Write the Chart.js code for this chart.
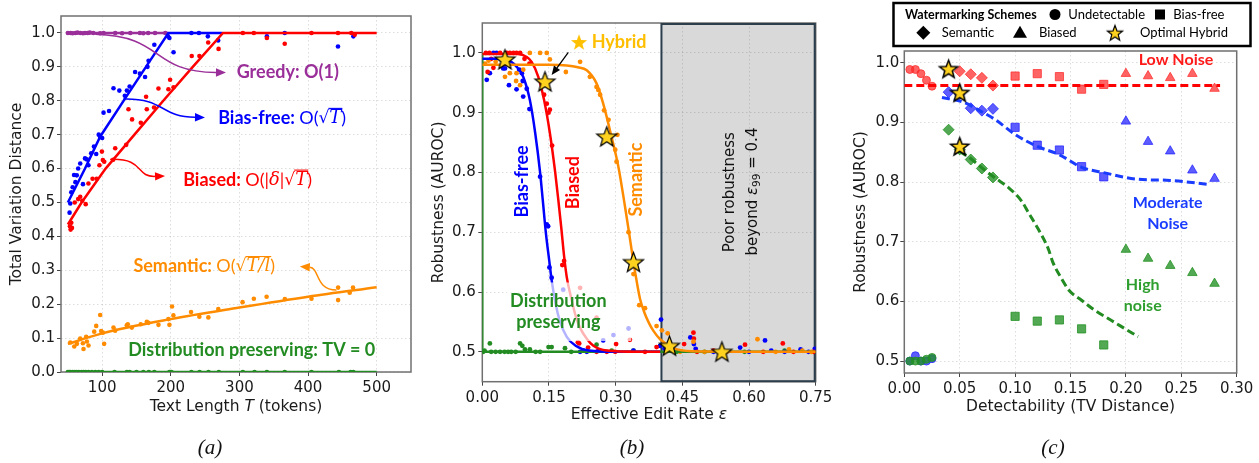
<!DOCTYPE html>
<html>
<head>
<meta charset="utf-8">
<script src="https://cdn.jsdelivr.net/npm/chart.js@4.4.1/dist/chart.umd.min.js"></script>
<style>
html,body{margin:0;padding:0;background:#fff;}
body{width:1259px;height:463px;position:relative;overflow:hidden;}
canvas{position:absolute;top:0;}
.cap{position:absolute;top:435px;line-height:24px;font:italic 21px 'Liberation Serif',serif;color:#111;transform:translateX(-50%);}
</style>
</head>
<body>
<canvas id="ca" width="420" height="463" style="left:0"></canvas>
<canvas id="cb" width="420" height="463" style="left:420px"></canvas>
<canvas id="cc" width="419" height="463" style="left:840px"></canvas>
<div class="cap" style="left:210px">(a)</div>
<div class="cap" style="left:632px">(b)</div>
<div class="cap" style="left:1053px">(c)</div>
<script>
// ================= DATA =================
// ---- Panel (a): TV distance vs text length ----
const aXTicks = [100, 200, 300, 400, 500];
const aYTicks = [0.0, 0.1, 0.2, 0.3, 0.4, 0.5, 0.6, 0.7, 0.8, 0.9, 1.0];
const aGreedyDots = [[50,1.0],[54,1.0],[57,0.999],[61,1.0],[64,1.001],[68,1.0],[72,0.999],[75,1.0],[79,1.0],[82,1.001],[87,1.0],[97,0.999],[102,1.0],[119,1.0],[129,0.999],[141,1.0],[155,1.0],[160,0.999],[167,1.0],[177,1.0],[192,1.0]];
const aGreedyLine = [[50,1.0],[196,1.0]];
const aBiasFreeDots = [[52.5,0.47],[53.5,0.497],[55,0.53],[57,0.545],[59,0.581],[61,0.56],[63,0.58],[65,0.6],[68,0.615],[72,0.554],[75,0.63],[77.7,0.627],[80,0.61],[84,0.645],[88,0.665],[91.3,0.643],[95,0.7],[97,0.694],[100,0.69],[102,0.765],[110,0.77],[116.5,0.837],[125,0.83],[133,0.815],[136,0.83],[140,0.842],[148,0.885],[155,0.88],[162.5,0.87],[166,0.9],[167.6,0.918],[176,0.965],[196,0.99],[198,0.985],[204,0.943],[230,1.0],[241,1.0],[254,0.99],[269,0.978],[340,0.99],[366,1.0],[443.6,0.96],[466,0.99]];
const aBiasFreeLine = [[50,0.5],[75,0.6],[97,0.694],[133.5,0.807],[167.4,0.911],[196.5,1.0],[275,1.0]];
const aBiasedDots = [[53,0.43],[54,0.42],[55,0.44],[56,0.425],[60,0.5],[65,0.51],[68,0.517],[71,0.505],[76,0.495],[80,0.556],[86,0.57],[92,0.57],[96,0.61],[99.6,0.65],[101,0.625],[103,0.62],[116,0.626],[119,0.66],[135,0.67],[138.3,0.775],[143.6,0.745],[156.3,0.735],[164,0.812],[165,0.775],[175.6,0.78],[182,0.836],[196.5,0.834],[199,0.862],[204,0.84],[230.5,0.932],[241.7,0.932],[254.5,0.972],[269.6,0.953],[305,1.0],[321,1.0],[340,0.985],[366,0.968],[405,1.0],[443.6,1.0],[463,1.0],[468,0.995]];
const aBiasedLine = [[50,0.435],[70,0.5],[105,0.6],[147,0.7],[189,0.8],[232,0.9],[276,1.0],[500,1.0]];
const aSemanticDots = [[53.5,0.087],[59.3,0.075],[63.2,0.083],[68,0.099],[71.9,0.085],[72.8,0.068],[76.7,0.104],[77.7,0.09],[80.1,0.078],[88.4,0.119],[91.3,0.136],[97.1,0.168],[98.5,0.121],[101,0.116],[102.9,0.083],[116.5,0.131],[118.9,0.122],[135.9,0.138],[137.3,0.141],[143.2,0.131],[156.2,0.141],[165,0.148],[167.4,0.145],[182,0.139],[196.5,0.156],[198,0.139],[201.8,0.193],[203.8,0.167],[229.5,0.177],[241.6,0.163],[254.7,0.161],[269.2,0.186],[304.6,0.206],[321,0.216],[339.6,0.222],[366.2,0.215],[405,0.216],[443.8,0.249],[443.8,0.212],[460.7,0.234],[465.5,0.249]];
const aSemanticLine = [[50,0.083],[100,0.114],[200,0.156],[300,0.19],[400,0.222],[500,0.25]];
const aDistDots = [[50,0],[52,0],[54,0],[57,0],[60,0],[63,0],[66,0],[70,0],[73,0],[76,0],[80,0],[85,0],[90,0],[95,0],[100,0],[118,0],[136,0],[140,0],[150,0],[160,0],[168,0],[176,0],[198,0],[201,0],[230,0],[242,0],[255,0],[270,0],[305,0],[322,0],[340,0],[366,0],[405,0],[445,0],[462,0],[466,0]];
const aDistLine = [[50,0],[500,0]];

// ---- Panel (b): robustness vs effective edit rate ----
const bXTicks = [0.00, 0.15, 0.30, 0.45, 0.60, 0.75];
const bYTicks = [0.5, 0.6, 0.7, 0.8, 0.9, 1.0];
const bBiasFreeDots = [[0.01,0.955],[0.017,0.966],[0.025,1.0],[0.032,1.0],[0.047,0.974],[0.051,0.974],[0.06,0.946],[0.077,0.939],[0.083,0.972],[0.089,0.966],[0.091,0.953],[0.092,0.927],[0.1,0.94],[0.106,0.906],[0.13,0.793],[0.145,0.713],[0.148,0.71],[0.151,0.641],[0.156,0.624],[0.182,0.604],[0.272,0.519],[0.295,0.528],[0.329,0.539],[0.22,0.5],[0.227,0.502],[0.235,0.5],[0.261,0.502],[0.34,0.502],[0.402,0.554],[0.4,0.51],[0.41,0.505],[0.468,0.524],[0.476,0.513],[0.48,0.505],[0.52,0.5],[0.58,0.507],[0.6,0.5],[0.636,0.519],[0.65,0.502],[0.68,0.5],[0.716,0.504],[0.734,0.5],[0.748,0.505]];
const bBiasFreeCurve = [[0,0.99],[0.04,0.99],[0.065,0.985],[0.077,0.977],[0.092,0.96],[0.107,0.921],[0.119,0.866],[0.13,0.8],[0.136,0.754],[0.143,0.699],[0.151,0.65],[0.156,0.62],[0.165,0.58],[0.175,0.55],[0.19,0.525],[0.21,0.51],[0.24,0.502],[0.3,0.5],[0.4,0.5]];
const bBiasedDots = [[0.008,1.0],[0.012,0.968],[0.016,1.0],[0.02,0.99],[0.025,0.975],[0.04,1.0],[0.055,1.0],[0.062,1.0],[0.07,1.0],[0.077,1.0],[0.085,1.0],[0.095,0.99],[0.106,0.982],[0.139,0.93],[0.145,0.915],[0.149,0.9],[0.152,0.905],[0.157,0.845],[0.18,0.645],[0.184,0.652],[0.22,0.607],[0.257,0.557],[0.215,0.516],[0.218,0.514],[0.238,0.507],[0.257,0.5],[0.28,0.5],[0.299,0.5],[0.301,0.513],[0.332,0.52],[0.366,0.5],[0.392,0.508],[0.454,0.513],[0.475,0.532],[0.476,0.522],[0.483,0.5],[0.52,0.502],[0.591,0.512],[0.632,0.5],[0.676,0.514],[0.7,0.5],[0.745,0.5]];
const bBiasedCurve = [[0,0.998],[0.08,0.998],[0.1,0.993],[0.111,0.985],[0.126,0.96],[0.139,0.921],[0.152,0.866],[0.164,0.8],[0.171,0.754],[0.178,0.705],[0.184,0.66],[0.19,0.625],[0.2,0.59],[0.21,0.56],[0.22,0.54],[0.235,0.522],[0.25,0.51],[0.28,0.502],[0.35,0.5],[0.4,0.5]];
const bSemanticDots = [[0.006,0.982],[0.014,0.987],[0.03,0.985],[0.051,0.96],[0.062,0.966],[0.076,0.953],[0.077,0.966],[0.085,0.946],[0.092,0.972],[0.107,1.0],[0.13,1.0],[0.145,1.0],[0.152,0.989],[0.188,0.968],[0.22,0.985],[0.242,0.96],[0.257,0.943],[0.261,0.938],[0.265,0.93],[0.274,0.904],[0.284,0.888],[0.299,0.838],[0.302,0.818],[0.304,0.863],[0.329,0.70],[0.34,0.63],[0.353,0.578],[0.366,0.573],[0.392,0.543],[0.404,0.536],[0.417,0.531],[0.445,0.5],[0.475,0.517],[0.5,0.5],[0.55,0.5],[0.619,0.521],[0.66,0.5],[0.69,0.504],[0.72,0.502],[0.74,0.5]];
const bSemanticCurve = [[0,0.98],[0.15,0.98],[0.19,0.979],[0.215,0.976],[0.235,0.971],[0.257,0.949],[0.272,0.915],[0.287,0.871],[0.306,0.81],[0.321,0.743],[0.33,0.70],[0.34,0.65],[0.348,0.615],[0.355,0.588],[0.365,0.565],[0.375,0.548],[0.385,0.535],[0.4,0.521],[0.43,0.506],[0.47,0.501],[0.75,0.5]];
const bDistDots = [[0.002,0.5],[0.005,0.502],[0.017,0.514],[0.02,0.5],[0.03,0.5],[0.04,0.5],[0.05,0.5],[0.058,0.5],[0.065,0.5],[0.075,0.5],[0.085,0.514],[0.09,0.51],[0.096,0.504],[0.107,0.504],[0.12,0.5],[0.13,0.5],[0.149,0.508],[0.156,0.508],[0.186,0.506],[0.2,0.5],[0.257,0.512],[0.291,0.502],[0.34,0.502],[0.4,0.51],[0.437,0.5],[0.5,0.5],[0.59,0.5],[0.68,0.502]];
const bDistCurve = [[0,1.0],[0,0.5],[0.75,0.5]];
const bHybridStars = [[0.051,0.989],[0.141,0.952],[0.28,0.86],[0.34,0.65],[0.421,0.51],[0.539,0.5]];

// ---- Panel (c): robustness vs detectability ----
const cXTicks = [0.00, 0.05, 0.10, 0.15, 0.20, 0.25, 0.30];
const cYTicks = [0.5, 0.6, 0.7, 0.8, 0.9, 1.0];
const cLowUndetectable = [[0.005,0.989],[0.01,0.989],[0.015,0.982],[0.02,0.971],[0.025,0.961]];
const cLowSemantic = [[0.04,0.99],[0.05,0.986],[0.06,0.981],[0.07,0.975],[0.08,0.962]];
const cLowBiasFree = [[0.10,0.978],[0.12,0.982],[0.14,0.977],[0.16,0.956],[0.18,0.964]];
const cLowBiased = [[0.20,0.982],[0.22,0.978],[0.24,0.975],[0.26,0.982],[0.28,0.957]];
const cLowHybridCurve = [[0.0,0.962],[0.285,0.962]];
const cModUndetectable = [[0.005,0.5],[0.01,0.509],[0.015,0.5],[0.02,0.5],[0.025,0.504]];
const cModSemantic = [[0.04,0.951],[0.05,0.948],[0.06,0.924],[0.07,0.92],[0.08,0.923]];
const cModBiasFree = [[0.10,0.892],[0.12,0.862],[0.14,0.854],[0.16,0.826],[0.18,0.809]];
const cModBiased = [[0.20,0.902],[0.22,0.868],[0.24,0.852],[0.26,0.82],[0.28,0.806]];
const cModHybridCurve = [[0.034,0.942],[0.052,0.935],[0.07,0.918],[0.082,0.905],[0.1,0.88],[0.12,0.86],[0.14,0.846],[0.16,0.825],[0.18,0.816],[0.21,0.805],[0.24,0.803],[0.275,0.796]];
const cHighUndetectable = [[0.005,0.5],[0.01,0.5],[0.015,0.5],[0.02,0.503],[0.025,0.506]];
const cHighSemantic = [[0.04,0.888],[0.05,0.855],[0.06,0.838],[0.07,0.823],[0.08,0.808]];
const cHighBiasFree = [[0.10,0.575],[0.12,0.567],[0.14,0.569],[0.16,0.554],[0.18,0.527]];
const cHighBiased = [[0.20,0.687],[0.22,0.672],[0.24,0.66],[0.26,0.648],[0.28,0.63]];
const cHighHybridCurve = [[0.05,0.852],[0.061,0.838],[0.07,0.824],[0.082,0.807],[0.094,0.791],[0.106,0.768],[0.112,0.749],[0.121,0.721],[0.13,0.688],[0.134,0.666],[0.142,0.638],[0.149,0.618],[0.16,0.602],[0.172,0.585],[0.187,0.568],[0.199,0.5545],[0.211,0.541]];
const cOptimalHybrid = [[0.04,0.99],[0.05,0.95],[0.05,0.86]];

// ================= STYLE / HELPERS =================
const BLUE='#0000ff', RED='#ff0000', ORANGE='#ff8c00', PURPLE='#9a2f9a', GREEN='#228b22', GOLD='#FFD21F';
Chart.defaults.font.family = "'DejaVu Sans', sans-serif";
Chart.defaults.color = '#1a1a1a';
Chart.defaults.animation = false;

const P = arr => arr.map(([x, y]) => ({x, y}));

function makeStar(R, fill, stroke, lw) {
  const r = R * 0.42, pad = (lw || 0) + 1.5;
  const s = Math.ceil(2 * (R + pad));
  const c = document.createElement('canvas'); c.width = s; c.height = s;
  const g = c.getContext('2d');
  g.beginPath();
  for (let i = 0; i < 10; i++) {
    const rad = i % 2 ? r : R, a = -Math.PI / 2 + i * Math.PI / 5;
    const px = s / 2 + rad * Math.cos(a), py = s / 2 + 0.8 + rad * Math.sin(a);
    i ? g.lineTo(px, py) : g.moveTo(px, py);
  }
  g.closePath(); g.fillStyle = fill; g.fill();
  if (lw) { g.lineWidth = lw; g.strokeStyle = stroke; g.lineJoin = 'miter'; g.stroke(); }
  return c;
}
const starB = makeStar(10.5, GOLD, '#000', 1.2);
const starC = makeStar(9.5, GOLD, '#000', 1.5);
const starHyb = makeStar(8.5, '#FFC000', null, 0);
const starLeg = makeStar(8, GOLD, '#000', 1.2);

function dots(data, color, r, order, extra) {
  return Object.assign({data: P(data), showLine: false, pointRadius: r, pointHoverRadius: r,
    backgroundColor: color, borderColor: color, borderWidth: 0, order}, extra || {});
}
function line(data, color, w, order, extra) {
  return Object.assign({data: P(data), showLine: true, pointRadius: 0, pointHoverRadius: 0,
    borderColor: color, backgroundColor: color, borderWidth: w, fill: false, order}, extra || {});
}

function scales(o) {
  const grid = {color: 'rgba(0,0,0,0.17)', lineWidth: 0.8, tickLength: 4, tickColor: '#444', tickWidth: 1};
  const border = {display: false, dash: [1.5, 2.5]};
  const tk = {font: {size: 15}, color: '#1a1a1a', autoSkip: false, maxRotation: 0};
  return {
    x: {type: 'linear', min: o.xmin, max: o.xmax, grid, border,
        ticks: Object.assign({}, tk, {padding: 3, callback: o.xfmt}),
        afterBuildTicks: s => { s.ticks = o.xticks.map(v => ({value: v})); },
        afterFit: s => { s.height = o.xh; },
        title: o.xtitle ? {display: true, text: o.xtitle, font: {size: 15.5}, color: '#1a1a1a', padding: {top: 0, bottom: o.xtpad}} : {display: false}},
    y: {type: 'linear', min: o.ymin, max: o.ymax, grid, border,
        ticks: Object.assign({}, tk, {padding: o.ypad, callback: v => Number(v).toFixed(1)}),
        afterBuildTicks: s => { s.ticks = o.yticks.map(v => ({value: v})); },
        afterFit: s => { s.width = o.yw; },
        title: {display: true, text: o.ytitle, font: {size: 15.5}, color: '#1a1a1a', padding: {top: o.ytpad, bottom: 0}}}
  };
}

function frame(c, color) {
  const a = c.chartArea, ctx = c.ctx;
  ctx.save(); ctx.strokeStyle = color || '#707070'; ctx.lineWidth = 1.5;
  ctx.strokeRect(a.left, a.top, a.right - a.left, a.bottom - a.top); ctx.restore();
}
function XY(c, x, y) { return [c.scales.x.getPixelForValue(x), c.scales.y.getPixelForValue(y)]; }

// parts: [text, font, color, overlineOffset, dy]
function rich(ctx, parts, x, y, align, rot) {
  ctx.save(); ctx.translate(x, y); if (rot) ctx.rotate(rot);
  ctx.textBaseline = 'middle'; ctx.textAlign = 'left';
  let w = 0;
  for (const p of parts) { ctx.font = p[1]; w += ctx.measureText(p[0]).width; }
  let cx = align === 'center' ? -w / 2 : align === 'right' ? -w : 0;
  for (const p of parts) {
    ctx.font = p[1]; ctx.fillStyle = p[2];
    const pw = ctx.measureText(p[0]).width;
    ctx.fillText(p[0], cx, p[4] || 0);
    if (p[3]) {
      ctx.strokeStyle = p[2]; ctx.lineWidth = 1.1; ctx.beginPath();
      ctx.moveTo(cx - 1, -p[3]); ctx.lineTo(cx + pw + 1, -p[3]); ctx.stroke();
    }
    cx += pw;
  }
  ctx.restore();
}

function arrowPath(ctx, pts, color, lw, head) {
  ctx.save(); ctx.strokeStyle = color; ctx.fillStyle = color; ctx.lineWidth = lw;
  const n = pts.length, tip = pts[n - 1], prev = pts[n - 2];
  const ang = Math.atan2(tip[1] - prev[1], tip[0] - prev[0]);
  const base = [tip[0] - head * Math.cos(ang), tip[1] - head * Math.sin(ang)];
  ctx.beginPath(); ctx.moveTo(pts[0][0], pts[0][1]);
  if (n === 4) ctx.bezierCurveTo(pts[1][0], pts[1][1], pts[2][0], pts[2][1], base[0], base[1]);
  else ctx.lineTo(base[0], base[1]);
  ctx.stroke();
  const hw = head * 0.42;
  ctx.beginPath(); ctx.moveTo(tip[0], tip[1]);
  ctx.lineTo(base[0] + hw * Math.sin(ang), base[1] - hw * Math.cos(ang));
  ctx.lineTo(base[0] - hw * Math.sin(ang), base[1] + hw * Math.cos(ang));
  ctx.closePath(); ctx.fill(); ctx.restore();
}

const BOLD = 'bold 18px Lato', MATH = '18px Lato', MI = 'italic 18px "DejaVu Serif"', SQ = '17px "DejaVu Sans"';

// ================= PANEL (a) =================
new Chart(document.getElementById('ca'), {
  type: 'scatter',
  data: {datasets: [
    line(aBiasedLine, RED, 2.5, 1),
    line(aBiasFreeLine, BLUE, 2.5, 2),
    line(aGreedyLine, PURPLE, 2.5, 3),
    line(aSemanticLine, ORANGE, 2.5, 2, {cubicInterpolationMode: 'monotone'}),
    line(aDistLine, GREEN, 2.5, 2),
    dots(aBiasedDots, RED, 2.3, 5),
    dots(aBiasFreeDots, BLUE, 2.3, 6),
    dots(aGreedyDots, PURPLE, 2.3, 4),
    dots(aSemanticDots, ORANGE, 2.3, 5),
    dots(aDistDots, GREEN, 2.3, 5)
  ]},
  options: {
    responsive: false, events: [],
    layout: {padding: {left: 0, top: 16, right: 9, bottom: 0}},
    plugins: {legend: {display: false}, tooltip: {enabled: false}},
    scales: scales({xmin: 40, xmax: 550, xticks: aXTicks, xfmt: v => String(v), xh: 91,
      ymin: 0, ymax: 1.05, yticks: aYTicks, yw: 61, ypad: 2, ytitle: 'Total Variation Distance', ytpad: 8})
  },
  plugins: [{id: 'decoA',
    beforeDatasetsDraw(c) { frame(c); },
    afterDatasetsDraw(c) {
      const ctx = c.ctx;
      const A = (pts) => pts.map(p => XY(c, p[0], p[1]));
      arrowPath(ctx, A([[89.8,0.996],[191.6,0.991],[169.8,0.885],[280.4,0.883]]), PURPLE, 1.5, 10);
      arrowPath(ctx, A([[131,0.805],[191.6,0.808],[184.4,0.752],[249.8,0.751]]), BLUE, 1.5, 10);
      arrowPath(ctx, A([[111.6,0.627],[162.5,0.631],[148,0.575],[191.6,0.578]]), RED, 1.5, 10);
      arrowPath(ctx, A([[441.4,0.242],[410,0.242],[417,0.307],[388,0.311]]), ORANGE, 1.5, 10);
      let p;
      p = XY(c, 296, 0.883); rich(ctx, [['Greedy: O(1)', BOLD, PURPLE]], p[0], p[1], 'left');
      p = XY(c, 269, 0.748); rich(ctx, [['Bias-free: ', BOLD, BLUE], ['O(', MATH, BLUE], ['\u221A', SQ, BLUE], ['T', MI, BLUE, 10], [')', MATH, BLUE]], p[0], p[1], 'left');
      p = XY(c, 218, 0.566); rich(ctx, [['Biased: ', BOLD, RED], ['O(', MATH, RED], ['|', MATH, RED], ['\u03B4', MI, RED], ['|', MATH, RED], ['\u221A', SQ, RED], ['T', MI, RED, 10], [')', MATH, RED]], p[0], p[1], 'left');
      p = XY(c, 145.5, 0.311); rich(ctx, [['Semantic: ', BOLD, ORANGE], ['O(', MATH, ORANGE], ['\u221A', SQ, ORANGE], ['T/l', MI, ORANGE, 10], [')', MATH, ORANGE]], p[0], p[1], 'left');
      p = XY(c, 138, 0.065); rich(ctx, [['Distribution preserving: TV = 0', BOLD, GREEN]], p[0], p[1], 'left');
    },
    afterDraw(c) {
      const a = c.chartArea;
      rich(c.ctx, [['Text Length ', '15.5px "DejaVu Sans"', '#1a1a1a'], ['T', 'italic 15.5px "DejaVu Sans"', '#1a1a1a'], [' (tokens)', '15.5px "DejaVu Sans"', '#1a1a1a']], (a.left + a.right) / 2, 406.7, 'center');
    }
  }]
});

// ================= PANEL (b) =================
new Chart(document.getElementById('cb'), {
  type: 'scatter',
  data: {datasets: [
    dots(bHybridStars, GOLD, 10, 0, {pointStyle: starB}),
    line(bSemanticCurve, ORANGE, 2.5, 1, {cubicInterpolationMode: 'monotone'}),
    line(bBiasedCurve, RED, 2.5, 2, {cubicInterpolationMode: 'monotone'}),
    line(bBiasFreeCurve, BLUE, 2.5, 3, {cubicInterpolationMode: 'monotone'}),
    line(bDistCurve, GREEN, 2.5, 4),
    dots(bSemanticDots, ORANGE, 2.4, 5),
    dots(bBiasedDots, RED, 2.4, 6),
    dots(bBiasFreeDots, BLUE, 2.4, 7),
    dots(bDistDots, GREEN, 2.4, 8)
  ]},
  options: {
    responsive: false, events: [],
    layout: {padding: {left: 0, top: 23, right: 24.3, bottom: 0}},
    plugins: {legend: {display: false}, tooltip: {enabled: false}},
    scales: scales({xmin: 0, xmax: 0.75, xticks: bXTicks, xfmt: v => Number(v).toFixed(2), xh: 81.3,
      ymin: 0.45, ymax: 1.05, yticks: bYTicks, yw: 62.3, ypad: 2.5, ytitle: 'Robustness (AUROC)', ytpad: 10})
  },
  plugins: [{id: 'decoB',
    beforeDatasetsDraw(c) {
      const a = c.chartArea, ctx = c.ctx;
      frame(c);
      const x0 = c.scales.x.getPixelForValue(0.403);
      ctx.save();
      ctx.fillStyle = 'rgba(0,0,0,0.15)'; ctx.fillRect(x0, a.top, a.right - x0, a.bottom - a.top);
      ctx.strokeStyle = '#2c3e4c'; ctx.lineWidth = 2; ctx.strokeRect(x0, a.top + 1, a.right - x0 - 1, a.bottom - a.top - 1.5);
      ctx.restore();
    },
    afterDatasetsDraw(c) {
      const ctx = c.ctx;
      // semi-transparent box behind "Distribution preserving"
      const p0 = XY(c, 0.055, 0.616), p1 = XY(c, 0.335, 0.518);
      ctx.save(); ctx.fillStyle = 'rgba(255,255,255,0.7)'; ctx.fillRect(p0[0], p0[1], p1[0] - p0[0], p1[1] - p0[1]); ctx.restore();
      let p;
      p = XY(c, 0.171, 0.585); rich(ctx, [['Distribution', BOLD, GREEN]], p[0], p[1], 'center');
      p = XY(c, 0.171, 0.549); rich(ctx, [['preserving', BOLD, GREEN]], p[0], p[1], 'center');
      p = XY(c, 0.0887, 0.785); rich(ctx, [['Bias-free', BOLD, BLUE]], p[0], p[1], 'center', -Math.PI / 2);
      p = XY(c, 0.204, 0.783); rich(ctx, [['Biased', BOLD, RED]], p[0], p[1], 'center', -Math.PI / 2);
      p = XY(c, 0.346, 0.788); rich(ctx, [['Semantic', BOLD, ORANGE]], p[0], p[1], 'center', -Math.PI / 2);
      const F = '15px "DejaVu Sans"';
      p = XY(c, 0.5574, 0.767); rich(ctx, [['Poor robustness', F, '#111']], p[0], p[1], 'center', -Math.PI / 2);
      p = XY(c, 0.6085, 0.768); rich(ctx, [['beyond ', F, '#111'], ['\u03B5', 'italic 15px "DejaVu Sans"', '#111'], ['99', '10.5px "DejaVu Sans"', '#111', 0, 4], [' = 0.4', F, '#111']], p[0], p[1], 'center', -Math.PI / 2);
      // Hybrid label and arrow
      p = XY(c, 0.2176, 1.0183);
      ctx.drawImage(starHyb, p[0] - starHyb.width / 2, p[1] - starHyb.height / 2);
      p = XY(c, 0.246, 1.0183); rich(ctx, [['Hybrid', BOLD, '#FFBF00']], p[0], p[1], 'left');
      arrowPath(ctx, [XY(c, 0.1935, 1.0007), XY(c, 0.156, 0.963)], '#000', 1.3, 9);
    },
    afterDraw(c) {
      const a = c.chartArea;
      rich(c.ctx, [['Effective Edit Rate ', '15.5px "DejaVu Sans"', '#1a1a1a'], ['\u03B5', 'italic 15.5px "DejaVu Sans"', '#1a1a1a']], (a.left + a.right) / 2, 415, 'center');
    }
  }]
});

// ================= PANEL (c) =================
const cRed = 'rgba(255,40,40,0.72)', cBlue = 'rgba(30,30,255,0.72)', cGreen = 'rgba(34,145,34,0.78)';
const mk = (data, color, style, r, order) => dots(data, color, r, order, {pointStyle: style, borderWidth: 1, borderColor: color});
new Chart(document.getElementById('cc'), {
  type: 'scatter',
  data: {datasets: [
    dots(cOptimalHybrid, GOLD, 10, 0, {pointStyle: starC}),
    line(cLowHybridCurve, RED, 3, 1, {borderDash: [8, 4]}),
    line(cModHybridCurve, '#1a3cff', 3, 1, {borderDash: [8, 4], cubicInterpolationMode: 'monotone'}),
    line(cHighHybridCurve, GREEN, 3, 1, {borderDash: [8, 4], cubicInterpolationMode: 'monotone'}),
    mk(cLowUndetectable, cRed, 'circle', 4, 3),
    mk(cLowSemantic, cRed, 'rectRot', 5.5, 3),
    mk(cLowBiasFree, cRed, 'rect', 5.8, 3),
    mk(cLowBiased, cRed, 'triangle', 5.5, 3),
    mk(cModUndetectable, cBlue, 'circle', 4, 3),
    mk(cModSemantic, cBlue, 'rectRot', 5.5, 3),
    mk(cModBiasFree, cBlue, 'rect', 5.8, 3),
    mk(cModBiased, cBlue, 'triangle', 5.5, 3),
    mk(cHighUndetectable, cGreen, 'circle', 4, 2),
    mk(cHighSemantic, cGreen, 'rectRot', 5.5, 3),
    mk(cHighBiasFree, cGreen, 'rect', 5.8, 3),
    mk(cHighBiased, cGreen, 'triangle', 5.5, 3)
  ]},
  options: {
    responsive: false, events: [],
    layout: {padding: {left: 0, top: 51, right: 22.3, bottom: 0}},
    plugins: {legend: {display: false}, tooltip: {enabled: false}},
    scales: scales({xmin: 0, xmax: 0.30, xticks: cXTicks, xfmt: v => Number(v).toFixed(2), xh: 90,
      xtitle: 'Detectability (TV Distance)', xtpad: 47,
      ymin: 0.48, ymax: 1.02, yticks: cYTicks, yw: 64.3, ypad: 1, ytitle: 'Robustness (AUROC)', ytpad: 12})
  },
  plugins: [{id: 'decoC',
    beforeDatasetsDraw(c) { frame(c); },
    afterDatasetsDraw(c) {
      const ctx = c.ctx, F = 'bold 16px Lato';
      let p;
      p = XY(c, 0.2452, 1.006); rich(ctx, [['Low Noise', F, '#ff1a1a']], p[0], p[1], 'center');
      p = XY(c, 0.2377, 0.766); rich(ctx, [['Moderate', F, '#1a3cff']], p[0], p[1], 'center');
      p = XY(c, 0.2377, 0.7295); rich(ctx, [['Noise', F, '#1a3cff']], p[0], p[1], 'center');
      p = XY(c, 0.2152, 0.628); rich(ctx, [['High', F, '#2e9e2e']], p[0], p[1], 'center');
      p = XY(c, 0.2152, 0.593); rich(ctx, [['noise', F, '#2e9e2e']], p[0], p[1], 'center');
    },
    afterDraw(c) {
      const ctx = c.ctx;
      ctx.save();
      ctx.fillStyle = '#fff'; ctx.fillRect(53.5, 3, 357, 43);
      ctx.strokeStyle = '#000'; ctx.lineWidth = 2.5; ctx.strokeRect(53.5, 3, 357, 43);
      const r1 = 14.5, r2 = 32.7, IT = '13px Lato';
      rich(ctx, [['Watermarking Schemes', 'bold 12.5px Lato', '#000']], 130.8, r1, 'center');
      ctx.fillStyle = '#000';
      ctx.beginPath(); ctx.arc(215, r1, 5.5, 0, Math.PI * 2); ctx.fill();
      rich(ctx, [['Undetectable', IT, '#000']], 228.3, r1, 'left');
      ctx.fillRect(315, r1 - 5, 10, 10);
      rich(ctx, [['Bias-free', IT, '#000']], 333.3, r1, 'left');
      ctx.beginPath(); ctx.moveTo(83.3, r2 - 7); ctx.lineTo(90.3, r2); ctx.lineTo(83.3, r2 + 7); ctx.lineTo(76.3, r2); ctx.closePath(); ctx.fill();
      rich(ctx, [['Semantic', IT, '#000']], 101.7, r2, 'left');
      ctx.beginPath(); ctx.moveTo(180, r2 - 7); ctx.lineTo(187, r2 + 5); ctx.lineTo(173, r2 + 5); ctx.closePath(); ctx.fill();
      rich(ctx, [['Biased', IT, '#000']], 199, r2, 'left');
      ctx.drawImage(starLeg, 275 - starLeg.width / 2, r2 - starLeg.height / 2);
      rich(ctx, [['Optimal Hybrid', IT, '#000']], 300, r2, 'left');
      ctx.restore();
    }
  }]
});
</script>
</body>
</html>
